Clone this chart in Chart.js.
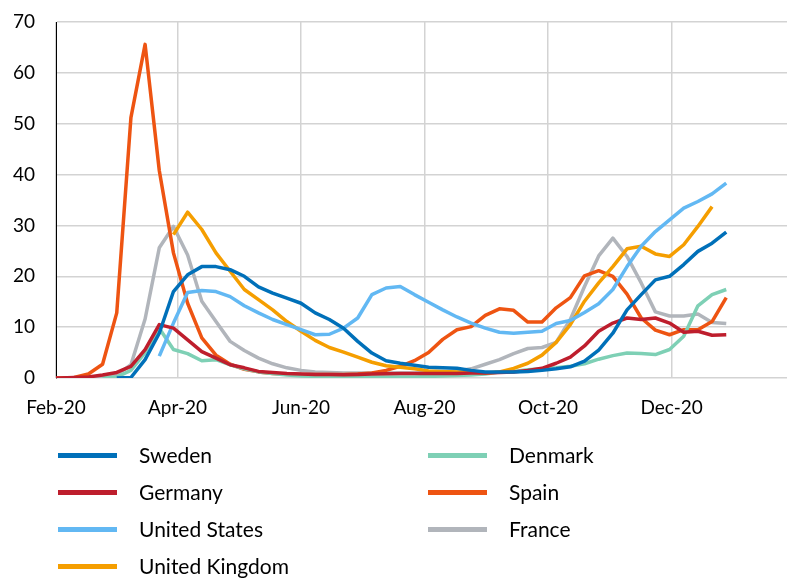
<!DOCTYPE html>
<html>
<head>
<meta charset="utf-8">
<script src="https://cdn.jsdelivr.net/npm/chart.js@4.4.1/dist/chart.umd.min.js"></script>
<style>
  html, body { margin: 0; padding: 0; background: #fff; }
  #wrap { position: relative; width: 787px; height: 579px; }
</style>
</head>
<body>
<div id="wrap"><canvas id="chart"></canvas></div>
<script>
// --- Data (weekly, week starting Monday) ---
const weeks = [
  '2020-01-27', '2020-02-03', '2020-02-10', '2020-02-17', '2020-02-24',
  '2020-03-02', '2020-03-09', '2020-03-16', '2020-03-23', '2020-03-30',
  '2020-04-06', '2020-04-13', '2020-04-20', '2020-04-27',
  '2020-05-04', '2020-05-11', '2020-05-18', '2020-05-25',
  '2020-06-01', '2020-06-08', '2020-06-15', '2020-06-22', '2020-06-29',
  '2020-07-06', '2020-07-13', '2020-07-20', '2020-07-27',
  '2020-08-03', '2020-08-10', '2020-08-17', '2020-08-24', '2020-08-31',
  '2020-09-07', '2020-09-14', '2020-09-21', '2020-09-28',
  '2020-10-05', '2020-10-12', '2020-10-19', '2020-10-26',
  '2020-11-02', '2020-11-09', '2020-11-16', '2020-11-23', '2020-11-30',
  '2020-12-07', '2020-12-14', '2020-12-21', '2020-12-28'
];

const sweden = [null, null, null, null, null, 0, 0.1, 3.6, 8.8, 17.0,
  20.3, 21.9, 21.9, 21.3, 20.0, 17.9, 16.7, 15.7, 14.7, 12.8,
  11.5, 9.8, 7.2, 4.9, 3.4, 2.9, 2.5, 2.1, 2.0, 1.9,
  1.5, 1.2, 1.2, 1.2, 1.3, 1.5, 1.8, 2.2, 3.3, 5.5,
  8.8, 13.4, 16.4, 19.3, 20.0, 22.3, 24.9, 26.5, 28.7];

const germany = [0, 0, 0.1, 0.2, 0.6, 1.1, 2.3, 5.6, 10.5, 9.8,
  7.5, 5.2, 3.9, 2.6, 2.0, 1.3, 1.1, 0.9, 0.8, 0.7,
  0.7, 0.65, 0.7, 0.8, 0.85, 0.9, 0.9, 0.9, 0.9, 0.9,
  1.0, 1.0, 1.1, 1.2, 1.5, 1.9, 2.9, 4.1, 6.3, 9.2,
  10.8, 11.8, 11.5, 11.8, 10.8, 9.0, 9.2, 8.4, 8.5];

const unitedStates = [null, null, null, null, null, null, null, null, 4.3, 10.8,
  16.8, 17.2, 17.0, 16.0, 14.2, 12.8, 11.5, 10.5, 9.5, 8.5,
  8.6, 9.8, 11.8, 16.4, 17.7, 18.0, 16.4, 14.9, 13.4, 12.0,
  10.8, 9.8, 9.0, 8.8, 9.0, 9.2, 10.7, 11.3, 12.9, 14.6,
  17.4, 21.9, 25.9, 28.8, 31.1, 33.4, 34.7, 36.2, 38.3];

const unitedKingdom = [null, null, null, null, null, null, null, null, null, 28.2,
  32.6, 29.2, 24.6, 21.0, 17.4, 15.4, 13.4, 11.1, 9.2, 7.4,
  6.0, 5.1, 4.1, 3.1, 2.4, 2.1, 1.8, 1.4, 1.3, 1.2,
  1.2, 1.0, 1.2, 1.9, 2.9, 4.5, 7.0, 10.5, 15.1, 18.7,
  21.9, 25.4, 25.9, 24.4, 23.9, 26.2, 29.8, 33.7, null];

const denmark = [null, null, null, null, 0, 0.2, 1.5, 5.0, 9.8, 5.6,
  4.8, 3.4, 3.6, 2.6, 1.8, 1.2, 0.9, 0.6, 0.4, 0.3,
  0.2, 0.2, 0.2, 0.2, 0.2, 0.2, 0.2, 0.3, 0.4, 0.5,
  0.6, 0.8, 1.2, 1.3, 1.6, 1.8, 2.0, 2.3, 2.8, 3.7,
  4.4, 4.9, 4.8, 4.6, 5.6, 8.2, 14.2, 16.4, 17.4];

const spain = [0, 0, 0.1, 0.8, 2.7, 12.8, 51.2, 65.6, 40.8, 24.6,
  14.7, 7.9, 4.5, 2.7, 1.7, 1.2, 0.9, 0.8, 0.7, 0.7,
  0.7, 0.7, 0.8, 1.0, 1.5, 2.3, 3.4, 5.0, 7.6, 9.5,
  10.1, 12.3, 13.6, 13.3, 11.0, 11.0, 13.8, 15.8, 20.1, 21.1,
  20.0, 16.5, 11.8, 9.4, 8.5, 9.5, 9.5, 11.1, 15.8];

const france = [null, null, null, 0, 0.2, 0.6, 2.6, 11.6, 25.6, 29.8,
  24.2, 15.1, 11.1, 7.2, 5.4, 3.9, 2.8, 2.0, 1.5, 1.2,
  1.1, 1.0, 1.0, 1.0, 1.0, 1.0, 1.0, 1.1, 1.2, 1.4,
  1.8, 2.7, 3.6, 4.8, 5.8, 6.0, 7.0, 11.5, 18.0, 24.0,
  27.5, 23.9, 18.7, 13.0, 12.2, 12.2, 12.6, 10.9, 10.7];

// x-axis ticks (first day of every second month)
const tickDates = ['2020-02-01', '2020-04-01', '2020-06-01', '2020-08-01', '2020-10-01', '2020-12-01'];
const tickLabels = ['Feb-20', 'Apr-20', 'Jun-20', 'Aug-20', 'Oct-20', 'Dec-20'];
const yTicks = [0, 10, 20, 30, 40, 50, 60, 70];

// --- Helpers ---
const DAY = 86400000;
const origin = Date.UTC(2020, 1, 1);
const toDay = s => (Date.parse(s + 'T00:00:00Z') - origin) / DAY;
const weekDays = weeks.map(toDay);
const tickDays = tickDates.map(toDay);
const points = arr => arr.map((v, i) => ({ x: weekDays[i], y: v }));

const series = [
  { label: 'Sweden', data: sweden, color: '#0070b9' },
  { label: 'Germany', data: germany, color: '#be1e2d' },
  { label: 'United States', data: unitedStates, color: '#62b8f3' },
  { label: 'United Kingdom', data: unitedKingdom, color: '#f59e00' },
  { label: 'Denmark', data: denmark, color: '#7ed0b5' },
  { label: 'Spain', data: spain, color: '#ee5412' },
  { label: 'France', data: france, color: '#b1b5bb' }
];

const FONT = 'Lato, "Open Sans", sans-serif';

// Legend in two columns below the plot
const legendPlugin = {
  id: 'twoColLegend',
  afterDraw(chart) {
    const ctx = chart.ctx;
    const left = chart.chartArea.left;
    ctx.save();
    ctx.font = '21px ' + FONT;
    ctx.textBaseline = 'middle';
    ctx.fillStyle = '#000';
    chart.data.datasets.forEach((ds, i) => {
      const col = i < 4 ? 0 : 1;
      const row = i < 4 ? i : i - 4;
      const x = left + 2 + col * 370;
      const y = 455.5 + row * 37;
      ctx.strokeStyle = ds.borderColor;
      ctx.lineWidth = 5;
      ctx.beginPath();
      ctx.moveTo(x, y);
      ctx.lineTo(x + 59, y);
      ctx.stroke();
      ctx.fillText(ds.label, x + 81, y + 1);
    });
    ctx.restore();
  }
};

const ctx = document.getElementById('chart').getContext('2d');
const chart = new Chart(ctx, {
  type: 'line',
  data: {
    datasets: series.map(s => ({
      label: s.label,
      data: points(s.data),
      borderColor: s.color,
      backgroundColor: s.color,
      borderWidth: 3.5,
      pointRadius: 0,
      tension: 0,
      borderJoinStyle: 'round',
      spanGaps: false
    }))
  },
  options: {
    responsive: true,
    maintainAspectRatio: false,
    animation: false,
    layout: { padding: { top: 22, left: 0, right: 0, bottom: 156 } },
    plugins: {
      legend: { display: false },
      tooltip: { enabled: false }
    },
    scales: {
      x: {
        type: 'linear',
        min: 0,
        max: 361,
        afterBuildTicks: scale => { scale.ticks = tickDays.map(v => ({ value: v })); },
        afterFit: scale => { scale.height = 45; },
        grid: { color: '#d3d3d3', lineWidth: 1.5, drawTicks: false },
        border: { display: false },
        ticks: {
          padding: 18,
          maxRotation: 0,
          autoSkip: false,
          color: '#000',
          font: { family: FONT, size: 19 },
          callback: (v, i) => tickLabels[i]
        }
      },
      y: {
        min: 0,
        max: 70,
        afterBuildTicks: scale => { scale.ticks = yTicks.map(v => ({ value: v })); },
        afterFit: scale => {
          scale.width = 56;
          scale.paddingTop = 0;
          scale.paddingBottom = 0;
        },
        grid: { color: '#d3d3d3', lineWidth: 1.5, drawTicks: false },
        border: { display: true, color: '#000', width: 1 },
        ticks: {
          padding: 21,
          color: '#000',
          font: { family: FONT, size: 19 }
        }
      }
    }
  },
  plugins: [legendPlugin]
});
</script>
</body>
</html>
